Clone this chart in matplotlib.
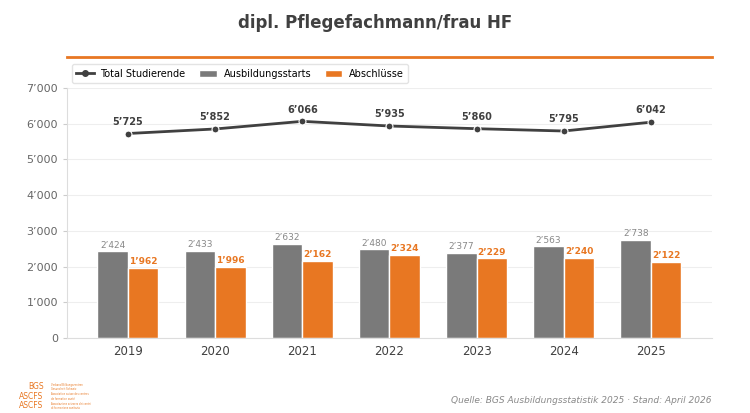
import numpy as np
import matplotlib.pyplot as plt
from matplotlib.lines import Line2D
from matplotlib.ticker import FuncFormatter

years = ['2019', '2020', '2021', '2022', '2023', '2024', '2025']
total = [5725, 5852, 6066, 5935, 5860, 5795, 6042]
starts = [2424, 2433, 2632, 2480, 2377, 2563, 2738]
grads = [1962, 1996, 2162, 2324, 2229, 2240, 2122]

ORANGE = '#e87722'
GREY = '#7a7a7a'
DARK = '#404040'


def fmt(v):
    return f'{int(v):,}'.replace(',', '\u2019')


fig = plt.figure(figsize=(7.5, 4.13), dpi=100)
ax = fig.add_axes([0.0893, 0.1816, 0.8600, 0.6054])

x = np.arange(len(years))
w = 0.35
b1 = ax.bar(x - w / 2, starts, w, color=GREY, edgecolor='white', linewidth=1, label='Ausbildungsstarts', zorder=2)
b2 = ax.bar(x + w / 2, grads, w, color=ORANGE, edgecolor='white', linewidth=1, label='Abschlüsse', zorder=2)
ax.plot(x, total, color=DARK, lw=2, marker='o', ms=5, mec='white', mew=0.8, zorder=3)

for xi, v in zip(x, starts):
    ax.text(xi - w / 2, v + 50, fmt(v), ha='center', va='bottom', fontsize=6.5, color='#888888')
for xi, v in zip(x, grads):
    ax.text(xi + w / 2, v + 50, fmt(v), ha='center', va='bottom', fontsize=6.5, color=ORANGE, fontweight='bold')
for xi, v in zip(x, total):
    ax.text(xi, v + 190, fmt(v), ha='center', va='bottom', fontsize=7, color=DARK, fontweight='bold')

ax.set_xlim(-0.7, 6.7)
ax.set_ylim(0, 7000)
ax.set_xticks(x)
ax.set_xticklabels(years, fontsize=8.5, color=DARK)
ax.set_yticks(range(0, 7001, 1000))
ax.yaxis.set_major_formatter(FuncFormatter(lambda v, p: fmt(v)))
ax.tick_params(axis='y', labelsize=8, labelcolor='#666666', color='#cccccc', length=3)
ax.tick_params(axis='x', length=0, pad=5)
ax.grid(axis='y', color='#eeeeee', lw=0.8, zorder=0)
ax.set_axisbelow(True)
for s in ['top', 'right']:
    ax.spines[s].set_visible(False)
for s in ['left', 'bottom']:
    ax.spines[s].set_color('#dddddd')

handles = [Line2D([0], [0], color=DARK, lw=2, marker='o', ms=4), b1, b2]
labels = ['Total Studierende', 'Ausbildungsstarts', 'Abschlüsse']
ax.legend(handles, labels, loc='lower left', bbox_to_anchor=(0.0, 1.0), ncol=3,
          fontsize=7, frameon=True, edgecolor='#dddddd', borderaxespad=0.5,
          handlelength=1.8, columnspacing=1.4, handletextpad=0.7, borderpad=0.45)

fig.text(0.5, 0.945, 'dipl. Pflegefachmann/frau HF', ha='center', va='center',
         fontsize=12, fontweight='bold', color=DARK)
fig.add_artist(Line2D([0.0893, 0.9493], [0.862, 0.862], color=ORANGE, lw=2))

fig.text(0.9493, 0.03, 'Quelle: BGS Ausbildungsstatistik 2025 · Stand: April 2026',
         ha='right', va='center', fontsize=6.5, style='italic', color='#888888')

logo = ['BGS', 'ASCFS', 'ASCFS']
sub = ['Verband Bildungszentren\nGesundheit Schweiz',
       'Association suisse des centres\nde formation santé',
       'Associazione svizzera dei centri\ndi formazione sanitaria']
for i, (a, b) in enumerate(zip(logo, sub)):
    yy = 0.063 - i * 0.023
    fig.text(0.058, yy, a, ha='right', va='center', fontsize=5.5, color=ORANGE)
    fig.text(0.068, yy, b, ha='left', va='center', fontsize=1.8, color=ORANGE, linespacing=1.1)

fig.savefig('out.png', dpi=100)
